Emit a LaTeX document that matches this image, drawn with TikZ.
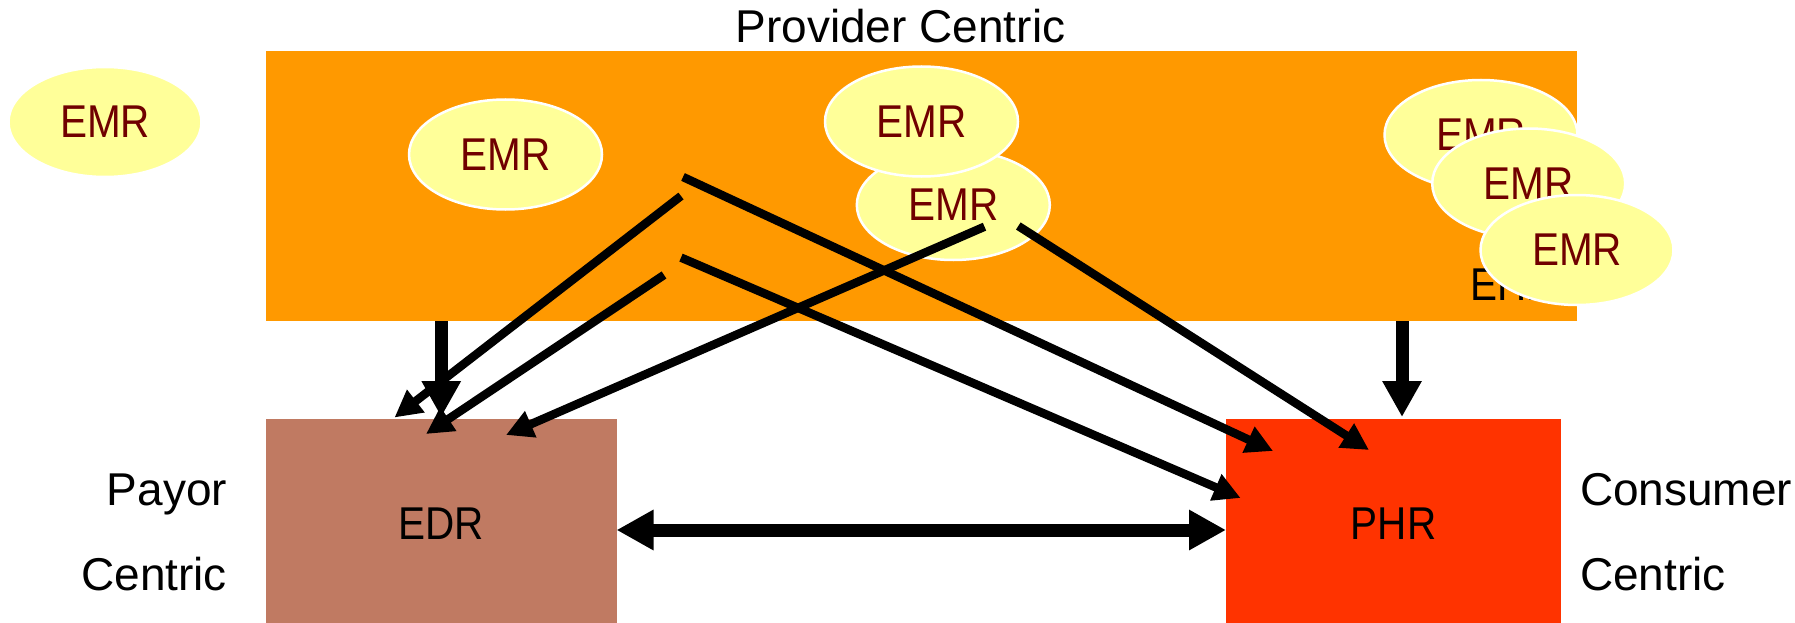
\documentclass[tikz,border=0pt]{standalone}
\usepackage{fontspec}
\setmainfont{Liberation Sans}
\usepackage{graphicx}
\usetikzlibrary{arrows.meta,shapes.geometric}
\definecolor{provorange}{HTML}{FF9900}
\definecolor{payorbrown}{HTML}{C07A62}
\definecolor{consumerred}{HTML}{FF3300}
\definecolor{emrfill}{HTML}{FFFF99}
\definecolor{emrtext}{HTML}{700000}
% capitals-only labels are set a little narrower
\newcommand\capsnarrow[1]{\scalebox{0.88}[1]{#1}}

\begin{document}
\begin{tikzpicture}[x=1pt,y=-1pt,
  bigfont/.style={font=\fontsize{46}{55}\selectfont},
  area/.style={rectangle, inner sep=0pt, outer sep=0pt},
  caption/.style={bigfont, inner sep=0pt, outer sep=0pt},
  emr/.style={ellipse, fill=emrfill, draw=white, line width=2.5pt,
    minimum width=193pt, minimum height=110pt, inner sep=0pt,
    text=emrtext, bigfont},
  link/.style={line width=8.5pt, -{Triangle[length=27pt,width=27pt]}},
  bigarrow/.style={line width=13pt, -{Triangle[length=36pt,width=37pt]}},
  bothways/.style={line width=13pt,
    {Triangle[length=37pt,width=38pt]}-{Triangle[length=37pt,width=38pt]}},
]
\clip (0,0) rectangle (1795,623);
\fill[white] (0,0) rectangle (1795,623);

% provider-centric area
\node[area, fill=provorange, minimum width=1311.4pt, minimum height=270pt] (ehr) at (921.3,186) {};
\node[caption, anchor=west] (ehrlabel) at (1470,285) {\capsnarrow{EHR}};
\node[caption] (provider) at (900.5,26.4) {Provider Centric};

% medical records
\node[emr] (emr0) at (105,122) {\capsnarrow{EMR}};
\node[emr] (emr1) at (505.5,154.5) {\capsnarrow{EMR}};
\node[emr] (emr3) at (953.3,205) {\capsnarrow{EMR}};
\node[emr] (emr2) at (921.5,121.5) {\capsnarrow{EMR}};
\node[emr] (emra) at (1481,135) {\capsnarrow{EMR}};
\node[emr] (emrb) at (1528.7,183.5) {\capsnarrow{EMR}};
\node[emr] (emrc) at (1577,250) {\capsnarrow{EMR}};

% payor and consumer records
\node[area, caption, fill=payorbrown, minimum width=350.5pt, minimum height=210pt] (edr) at (441.25,524) {\capsnarrow{EDR}};
\node[area, caption, fill=consumerred, minimum width=335pt, minimum height=210pt] (phr) at (1393.5,524) {\capsnarrow{PHR}};

\node[caption, anchor=base east] (payor) at (227,505) {Payor};
\node[caption, anchor=base east] (payorc) at (227,590) {Centric};
\node[caption, anchor=base west] (consumer) at (1580,505) {Consumer};
\node[caption, anchor=base west] (consumerc) at (1580,590) {Centric};

% free ends of the data flows
\coordinate (s1) at (681,196);     \coordinate (t1) at (394.5,417.5);
\coordinate (s2) at (664,275);     \coordinate (t2) at (426,434);
\coordinate (s3) at (984.5,226.7); \coordinate (t3) at (506,435);
\coordinate (s4) at (683,177);     \coordinate (t4) at (1273,451);
\coordinate (s5) at (1018.3,226);  \coordinate (t5) at (1369,450);
\coordinate (s6) at (681,257.6);   \coordinate (t6) at (1240.6,498);
\coordinate (rdown) at (1402,0);
\coordinate (across) at (0,530);

\draw[link] (s1) -- (t1);
\draw[link] (s2) -- (t2);
\draw[link] (s3) -- (t3);
\draw[link] (s4) -- (t4);
\draw[link] (s5) -- (t5);
\draw[link] (s6) -- (t6);

\draw[bigarrow] (edr.north |- ehr.south) -- ([yshift=2pt]edr.north);
\draw[bigarrow] (rdown |- ehr.south) -- ([yshift=2pt]rdown |- phr.north);
\draw[bothways] (edr.east |- across) -- (phr.west |- across);
\end{tikzpicture}
\end{document}
